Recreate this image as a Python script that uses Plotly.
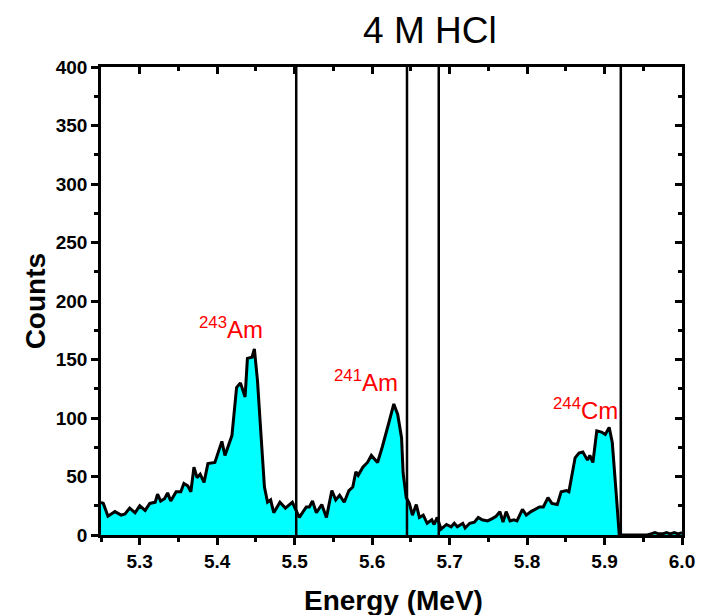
import plotly.graph_objects as go

# Alpha spectrum (4 M HCl fraction)
energy = [5.250, 5.253, 5.259, 5.268, 5.276, 5.281, 5.287, 5.294, 5.300, 5.307,
          5.313, 5.320, 5.323, 5.327, 5.332, 5.336, 5.340, 5.347, 5.353, 5.357,
          5.362, 5.366, 5.370, 5.374, 5.378, 5.383, 5.388, 5.397, 5.406, 5.410,
          5.419, 5.425, 5.430, 5.436, 5.439, 5.445, 5.448, 5.452, 5.457, 5.461,
          5.465, 5.469, 5.473, 5.481, 5.488, 5.497, 5.506, 5.515, 5.519, 5.523,
          5.528, 5.535, 5.541, 5.548, 5.553, 5.558, 5.564, 5.570, 5.575, 5.579,
          5.582, 5.588, 5.594, 5.599, 5.603, 5.607, 5.613, 5.619, 5.622, 5.628,
          5.633, 5.638, 5.640, 5.644, 5.648, 5.652, 5.657, 5.661, 5.666, 5.671,
          5.677, 5.680, 5.684, 5.689, 5.696, 5.702, 5.706, 5.710, 5.717, 5.720,
          5.726, 5.732, 5.737, 5.742, 5.749, 5.755, 5.760, 5.765, 5.769, 5.773,
          5.778, 5.783, 5.787, 5.794, 5.799, 5.805, 5.812, 5.816, 5.821, 5.827,
          5.832, 5.839, 5.844, 5.851, 5.854, 5.858, 5.862, 5.867, 5.872, 5.878,
          5.881, 5.885, 5.890, 5.896, 5.901, 5.906, 5.910, 5.915, 5.919, 5.925,
          5.940, 5.955, 5.960, 5.965, 5.970, 5.975, 5.980, 5.985, 5.990, 5.995,
          6.000]
counts = [28, 27, 16, 20, 17, 18, 23, 19, 25, 21,
          27, 28, 35, 29, 31, 36, 29, 37, 37, 44,
          42, 37, 58, 49, 52, 45, 61, 62, 80, 68,
          85, 126, 130, 118, 151, 152, 159, 132, 81, 41,
          28, 30, 19, 28, 23, 28, 15, 24, 24, 29,
          19, 26, 15, 38, 30, 34, 28, 38, 41, 54,
          51, 58, 62, 68, 65, 62, 75, 91, 97, 112,
          103, 83, 53, 32, 27, 17, 26, 15, 17, 10,
          13, 9, 15, 5, 9, 7, 10, 7, 10, 6,
          10, 11, 15, 13, 12, 14, 16, 20, 11, 20,
          12, 13, 12, 22, 17, 20, 23, 24, 24, 32,
          27, 26, 37, 38, 37, 51, 66, 70, 71, 64,
          68, 62, 89, 88, 86, 92, 79, 36, 0, 0,
          0, 0, 1, 2, 1, 1, 2, 1, 2, 1,
          2]

# Region-of-interest boundaries (MeV)
boundaries = [5.502, 5.645, 5.686, 5.921]

# Peak labels
peak_labels = ["<sup>243</sup>Am", "<sup>241</sup>Am", "<sup>244</sup>Cm"]
peak_x = [5.418, 5.592, 5.876]
peak_y = [177, 132, 108]

x_range = [5.25, 6.0]
y_range = [0, 400]

FONT = "Liberation Sans"

fig = go.Figure()
fig.add_trace(go.Scatter(
    x=energy, y=counts, mode="lines", fill="tozeroy",
    fillcolor="#00ffff", line=dict(color="black", width=3),
    showlegend=False, hoverinfo="skip"))
# invisible copy so the mirrored (top/right) axes get drawn
fig.add_trace(go.Scatter(
    x=energy, y=counts, mode="lines", xaxis="x2", yaxis="y2",
    line=dict(color="rgba(0,0,0,0)", width=0), opacity=0,
    showlegend=False, hoverinfo="skip"))

for b in boundaries:
    fig.add_shape(type="line", x0=b, x1=b, y0=y_range[0], y1=y_range[1],
                  xref="x", yref="y", line=dict(color="black", width=2.5))

for t, px, py in zip(peak_labels, peak_x, peak_y):
    fig.add_annotation(x=px, y=py, xref="x", yref="y", text=t, showarrow=False,
                       xanchor="center", yanchor="middle",
                       font=dict(family=FONT, size=24, color="#ff0000"))

# axis titles
fig.add_annotation(text="Counts", xref="paper", yref="paper", x=-0.113, y=0.5,
                   xanchor="center", yanchor="middle",
                   textangle=-90, showarrow=False,
                   font=dict(family=FONT, size=28, color="black", weight="bold"))
fig.add_annotation(text="Energy (MeV)", xref="paper", yref="paper", x=0.504, y=-0.139,
                   xanchor="center", yanchor="middle", showarrow=False,
                   font=dict(family=FONT, size=28, color="black", weight="bold"))

tickfont = dict(family=FONT, size=19, color="black", weight="bold")

fig.update_layout(
    width=707, height=615,
    margin=dict(l=101, r=23, t=67, b=80),
    plot_bgcolor="white", paper_bgcolor="white",
    title=dict(text="4 M HCl", x=0.608, y=0.951, xanchor="center", yanchor="middle",
               font=dict(family=FONT, size=37, color="black")),
    xaxis=dict(range=x_range, tick0=5.3, dtick=0.1, tickformat=".1f",
               ticks="outside", ticklen=7, tickwidth=2.5, tickcolor="black",
               showline=True, linecolor="black", linewidth=2.5, showgrid=False,
               zeroline=False, tickfont=tickfont,
               minor=dict(ticks="outside", ticklen=4, tickwidth=2.5, tickcolor="black",
                          tick0=5.25, dtick=0.1, showgrid=False)),
    yaxis=dict(range=y_range, tick0=0, dtick=50,
               ticks="outside", ticklen=7, tickwidth=2.5, tickcolor="black",
               showline=True, linecolor="black", linewidth=2.5, showgrid=False,
               zeroline=False, tickfont=tickfont,
               minor=dict(ticks="outside", ticklen=4, tickwidth=2.5, tickcolor="black",
                          tick0=25, dtick=50, showgrid=False)),
    xaxis2=dict(range=x_range, overlaying="x", side="top", anchor="y",
                tick0=5.3, dtick=0.1, ticks="inside", ticklen=7, tickwidth=2.5,
                tickcolor="black", showline=True, linecolor="black", linewidth=2.5,
                showgrid=False, zeroline=False, showticklabels=False,
                minor=dict(ticks="inside", ticklen=4, tickwidth=2.5, tickcolor="black",
                           tick0=5.25, dtick=0.1, showgrid=False)),
    yaxis2=dict(range=y_range, overlaying="y", side="right", anchor="x",
                tick0=0, dtick=50, ticks="inside", ticklen=7, tickwidth=2.5,
                tickcolor="black", showline=True, linecolor="black", linewidth=2.5,
                showgrid=False, zeroline=False, showticklabels=False,
                minor=dict(ticks="inside", ticklen=4, tickwidth=2.5, tickcolor="black",
                           tick0=25, dtick=50, showgrid=False)),
)

fig.write_html("out.html")
